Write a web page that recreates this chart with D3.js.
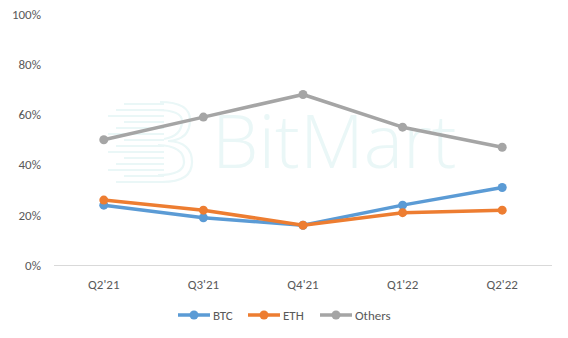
<!DOCTYPE html>
<html><head><meta charset="utf-8">
<script src="https://cdn.jsdelivr.net/npm/d3@7"></script>
<style>body{margin:0;background:#fff}svg{display:block}</style>
</head><body>
<svg id="c" width="568" height="338"></svg>
<script>
const categories = ["Q2'21","Q3'21","Q4'21","Q1'22","Q2'22"];
const btc = [24, 19, 16, 24, 31];
const eth = [26, 22, 16, 21, 22];
const others = [50, 59, 68, 55, 47];
const yTicks = [0, 20, 40, 60, 80, 100];
const seriesNames = ["BTC","ETH","Others"];
const seriesColors = ["#5B9BD5","#ED7D31","#A5A5A5"];
const seriesValues = [btc, eth, others];

const svg = d3.select("#c");
const font = "Calibri, Carlito, Lato, 'Noto Sans', sans-serif";
const x = d3.scaleBand().domain(categories).range([54, 552]);
const y = d3.scaleLinear().domain([0, 100]).range([265.5, 14]);

// watermark
const wm = svg.append("g").attr("fill", "none").attr("stroke", "#eaf7f7").attr("stroke-width", 2.2);
const stripes = [104,110,116,122,128,134,140,146,152,158,164,170,176,182];
stripes.forEach((sy, i) => {
  const len = 40 + (i % 3) * 8;
  wm.append("line").attr("x1", 192 - len - 28).attr("x2", 192 - 28).attr("y1", sy).attr("y2", sy);
});
wm.append("path").attr("d", "M160,102 Q190,102 190,120 Q190,140 168,141 Q192,142 192,162 Q192,182 162,182");
wm.append("path").attr("d", "M156,110 Q182,110 182,121 Q182,136 164,139");
wm.append("path").attr("d", "M158,145 Q184,146 184,162 Q184,175 158,175");
svg.append("text").attr("x", 212).attr("y", 168).attr("font-family", "'Open Sans', sans-serif")
  .attr("font-size", 74).attr("fill", "#eaf7f7").attr("font-weight", 300).text("BitMart");

// baseline
svg.append("line").attr("x1", 54).attr("x2", 552).attr("y1", y(0)).attr("y2", y(0))
  .attr("stroke", "#d9d9d9").attr("stroke-width", 1);

// y axis labels
svg.append("g").selectAll("text").data(yTicks).join("text")
  .attr("x", 41).attr("y", d => y(d) + 4.5).attr("text-anchor", "end")
  .attr("font-family", font).attr("font-size", 13).attr("fill", "#595959")
  .text(d => d + "%");

// x labels
svg.append("g").selectAll("text").data(categories).join("text")
  .attr("x", d => x(d) + x.bandwidth() / 2).attr("y", 289).attr("text-anchor", "middle")
  .attr("font-family", font).attr("font-size", 13).attr("fill", "#595959")
  .text(d => d);

const line = d3.line().x((d, i) => x(categories[i]) + x.bandwidth() / 2).y(d => y(d));
seriesValues.forEach((vals, s) => {
  const g = svg.append("g");
  g.append("path").attr("d", line(vals)).attr("fill", "none")
    .attr("stroke", seriesColors[s]).attr("stroke-width", 3.5).attr("stroke-linejoin", "round").attr("stroke-linecap", "round");
  g.selectAll("circle").data(vals).join("circle")
    .attr("cx", (d, i) => x(categories[i]) + x.bandwidth() / 2).attr("cy", d => y(d))
    .attr("r", 4.5).attr("fill", seriesColors[s]);
});

// legend
const legX = [178, 248, 320];
const lg = svg.append("g");
seriesNames.forEach((n, i) => {
  const g = lg.append("g").attr("transform", `translate(${legX[i]},315)`);
  g.append("line").attr("x1", 0).attr("x2", 32).attr("stroke", seriesColors[i]).attr("stroke-width", 3.5);
  g.append("circle").attr("cx", 16).attr("r", 4.5).attr("fill", seriesColors[i]);
  g.append("text").attr("x", 35).attr("y", 4.5).attr("font-family", font).attr("font-size", 13)
    .attr("fill", "#595959").text(n);
});
</script>
</body></html>
